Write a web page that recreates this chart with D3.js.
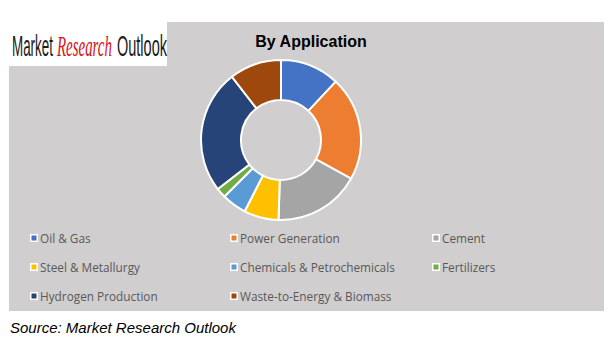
<!DOCTYPE html>
<html>
<head>
<meta charset="utf-8">
<script src="https://cdn.jsdelivr.net/npm/d3@7"></script>
<style>
  body { margin: 0; background: #fff; }
  svg { display: block; }
</style>
</head>
<body>
<div id="chart"></div>
<script>
// data (share of total, %)
const categories = ['Oil & Gas', 'Power Generation', 'Cement', 'Steel & Metallurgy',
  'Chemicals & Petrochemicals', 'Fertilizers', 'Hydrogen Production', 'Waste-to-Energy & Biomass'];
const shares = [12, 21, 17.5, 7, 5, 2, 25, 10.5];
const colors = ['#4472C4', '#ED7D31', '#A5A5A5', '#FFC000', '#5B9BD5', '#70AD47', '#264478', '#9E480E'];

const width = 615, height = 351;

const svg = d3.select('#chart').append('svg')
  .attr('width', width)
  .attr('height', height);

// gray chart panel
svg.append('rect')
  .attr('x', 9).attr('y', 22)
  .attr('width', 595).attr('height', 289)
  .attr('fill', '#D0CECE');

// logo box
svg.append('rect')
  .attr('x', 9).attr('y', 22)
  .attr('width', 158).attr('height', 44)
  .attr('fill', '#FFFFFF');

// logo words, squeezed horizontally to fit their slots
const logoWords = [
  { text: 'Market', x: 12, w: 41, family: 'Liberation Sans, Arial, sans-serif', italic: false, color: '#1a1a1a' },
  { text: 'Research', x: 57, w: 55, family: 'Liberation Serif, serif', italic: true, color: '#D7141A' },
  { text: 'Outlook', x: 117, w: 50, family: 'Liberation Sans, Arial, sans-serif', italic: false, color: '#1a1a1a' }
];
const logo = svg.append('g').attr('class', 'logo');
logoWords.forEach(d => {
  const t = logo.append('text')
    .style('font-family', d.family)
    .style('font-style', d.italic ? 'italic' : 'normal')
    .style('font-size', '29px')
    .style('fill', d.color)
    .text(d.text);
  const natural = t.node().getComputedTextLength();
  t.attr('transform', `translate(${d.x},56) scale(${d.w / natural},1)`);
});

// title
svg.append('text')
  .attr('x', 311).attr('y', 47)
  .attr('text-anchor', 'middle')
  .style('font-family', 'Liberation Sans, Arial, sans-serif')
  .style('font-weight', 'bold')
  .style('font-size', '16px')
  .style('fill', '#000')
  .text('By Application');

// donut
const cx = 281, cy = 140, rOuter = 80, rInner = 40;
const pie = d3.pie().sort(null).value(d => d)(shares);
const arc = d3.arc().innerRadius(rInner).outerRadius(rOuter);

svg.append('g')
  .attr('transform', `translate(${cx},${cy})`)
  .selectAll('path')
  .data(pie)
  .enter()
  .append('path')
  .attr('d', arc)
  .attr('fill', (d, i) => colors[i])
  .attr('stroke', '#FFFFFF')
  .attr('stroke-width', 2);

// legend, 3 columns
const colX = [30, 230, 432];
const rowY = [238, 267, 296];
const legend = svg.append('g').attr('class', 'legend');
const item = legend.selectAll('g')
  .data(categories)
  .enter()
  .append('g')
  .attr('transform', (d, i) => `translate(${colX[i % 3]},${rowY[Math.floor(i / 3)]})`);

item.append('rect')
  .attr('x', 0).attr('y', -4)
  .attr('width', 8).attr('height', 8)
  .attr('fill', '#FFFFFF');
item.append('rect')
  .attr('x', 1.5).attr('y', -2.5)
  .attr('width', 5).attr('height', 5)
  .attr('fill', (d, i) => colors[i]);
item.append('text')
  .attr('x', 10).attr('y', 4.5)
  .style('font-family', 'Open Sans, sans-serif')
  .style('font-size', '11.8px')
  .style('fill', '#595959')
  .text(d => d);

// source note
svg.append('text')
  .attr('x', 10).attr('y', 333)
  .style('font-family', 'Liberation Sans, Arial, sans-serif')
  .style('font-style', 'italic')
  .style('font-size', '15px')
  .style('fill', '#000')
  .text('Source: Market Research Outlook');
</script>
</body>
</html>
